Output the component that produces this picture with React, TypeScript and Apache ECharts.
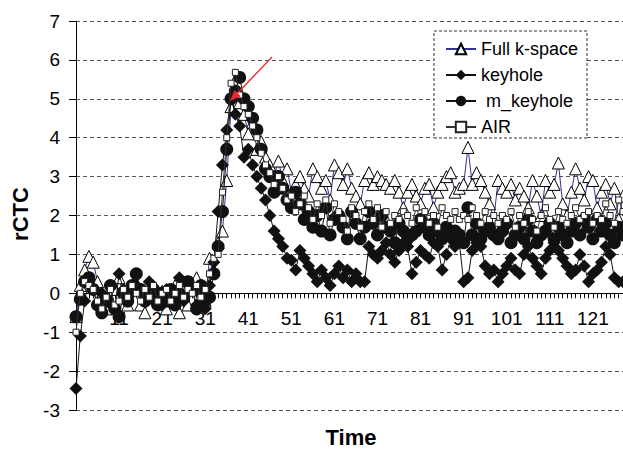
import React, { useEffect, useRef } from "react";
import * as echarts from "echarts";

const TIME: string[] = Array.from({ length: 128 }, (_, i) => String(i + 1));

const FULL_KSPACE: number[] = [
  -0.6, 0.2, 0.6, 0.95, 0.8, 0.3, -0.1, -0.4, -0.2, 0.1,
  0.4, -0.1, -0.3, 0.1, 0.2, -0.3, -0.5, 0.0, 0.1, -0.2,
  0.05, -0.4, -0.1, 0.2, -0.5, 0.1, -0.3, 0.2, 0.4, 0.1,
  -0.2, 0.9, 0.6, 1.3, 1.6, 2.9, 4.8, 5.2, 4.9, 4.6,
  4.1, 4.4, 3.7, 3.9, 3.5, 3.3, 3.0, 3.4, 2.9, 3.2,
  2.6, 2.8, 3.0, 2.7, 2.5, 3.2, 3.0, 2.7, 2.9, 2.4,
  3.3, 3.1, 2.8, 3.2, 2.7, 2.5, 2.3, 2.9, 3.1, 2.8,
  3.0, 2.9, 2.8, 2.7, 2.9, 2.6, 2.2, 2.6, 2.8, 2.5,
  2.3, 2.7, 2.8, 2.2, 2.6, 2.8, 3.0, 3.1, 2.6, 2.7,
  2.8, 3.75, 2.8, 3.1, 2.9, 2.6, 2.3, 1.9, 2.9, 2.7,
  2.6, 2.8, 2.4, 2.7, 2.5, 2.2, 2.9, 2.5, 2.0, 2.9,
  2.6, 2.8, 3.35, 2.3, 2.0, 2.6, 3.2, 2.7, 2.4, 3.0,
  2.9, 2.2, 2.6, 2.8, 2.3, 2.7, 1.9, 2.5,
];

const KEYHOLE: number[] = [
  -2.45, -1.1, -0.2, 0.3, 0.1, -0.3, 0.0, -0.1, 0.2, -0.4,
  0.5, 0.1, -0.2, 0.0, 0.2, 0.1, -0.1, 0.3, -0.2, 0.0,
  -0.3, 0.1, 0.0, -0.1, 0.4, -0.2, 0.2, 0.1, -0.3, 0.0,
  -0.4, 0.2, 0.8, 2.1, 3.3, 4.2, 5.0, 4.6, 4.3, 3.5,
  3.7, 3.3, 3.0, 2.7, 2.4, 2.0, 1.6, 1.4, 1.2, 0.9,
  0.85, 0.6, 1.1, 0.9, 0.7, 0.5, 0.3, 0.6, 0.4, 0.2,
  0.5, 0.7, 0.4, 0.6, 0.3, 0.5, 0.3, 0.3, 1.2, 1.0,
  0.9, 1.1, 1.3, 1.0, 0.8, 1.1, 1.3, 1.2, 0.5, 0.8,
  1.1, 1.0, 0.9, 1.3, 1.2, 0.6, 1.0, 1.4, 1.2, 1.3,
  0.3, 0.4, 1.1, 1.3, 1.2, 0.7, 0.5, 0.6, 0.3, 0.5,
  0.7, 0.9, 0.6, 0.5, 1.0, 1.2, 0.9, 0.7, 0.5, 0.9,
  1.1, 1.3, 1.1, 0.9, 0.7, 0.5, 0.6, 1.0, 0.7, 0.3,
  0.5, 0.6, 0.8, 1.2, 1.0, 0.4, 0.3, 0.3,
];

const M_KEYHOLE: number[] = [
  -0.6, -0.15, 0.3, 0.4, 0.1, -0.3, -0.5, -0.2, 0.2, -0.4,
  -0.6, 0.0, -0.2, 0.2, 0.5, 0.1, -0.2, 0.0, 0.1, -0.3,
  0.0, -0.2, 0.1, -0.3, 0.0, -0.1, 0.3, 0.1, -0.4, 0.2,
  -0.2, -0.1, 0.5, 1.2, 2.1, 3.7, 5.0, 5.2, 5.55, 5.0,
  4.8, 4.5, 4.2, 3.7, 3.2, 3.0, 2.6, 3.0, 2.7, 2.4,
  2.2, 2.6, 2.3, 1.9, 2.1, 1.7, 2.0, 1.6, 2.2, 1.5,
  1.9, 2.0, 1.7, 1.4, 2.1, 1.8, 1.4, 1.7, 2.1, 1.8,
  1.5, 2.0, 1.7, 1.6, 1.3, 1.8, 1.6, 1.4, 1.5, 1.6,
  1.9, 1.7, 1.5, 1.8, 1.6, 1.4, 1.7, 1.5, 1.6, 1.5,
  1.3, 2.2, 1.5, 1.8, 1.4, 1.6, 1.7, 1.5, 1.4, 1.6,
  1.8, 1.3, 1.5, 1.7, 1.4, 1.9, 1.6, 1.3, 1.5, 1.6,
  1.8, 1.4, 1.7, 1.5, 1.3, 1.6, 1.8, 1.5, 1.9, 1.7,
  1.4, 1.9, 1.6, 1.8, 1.5, 1.3, 1.7, 1.5,
];

const AIR: number[] = [
  -1.0, 0.0, 0.3, 0.2, 0.1, -0.2, -0.4, -0.1, 0.1, -0.3,
  -0.2, 0.1, -0.1, 0.2, 0.0, -0.2, 0.1, -0.1, 0.2, -0.2,
  0.0, 0.1, -0.2, 0.0, 0.2, -0.1, 0.1, 0.0, 0.2, -0.1,
  0.1, 0.5, 0.9, 1.0, 2.6, 4.0, 5.4, 5.68, 5.1, 4.8,
  4.6, 4.3, 4.0, 3.6, 3.3, 3.1, 2.8, 3.0, 2.7, 2.4,
  2.5, 2.1, 2.3, 2.5, 2.2, 1.9, 2.3, 2.0, 2.4, 1.8,
  2.3, 2.1, 1.9, 1.6, 2.2, 2.0, 1.7, 2.1, 2.3, 1.9,
  2.2, 1.7, 2.1, 1.8, 2.0, 1.9, 2.1, 2.0, 1.8, 2.2,
  1.9, 2.1, 1.8, 2.0, 1.7, 2.2, 2.0, 1.9, 2.1, 1.9,
  2.0, 1.9, 2.2, 2.0, 1.8, 2.1, 1.9, 2.0, 1.8, 2.0,
  1.9, 2.1, 1.7, 2.0, 1.8, 2.1, 1.9, 1.6, 2.0, 2.2,
  1.9, 1.7, 2.1, 1.9, 1.8, 2.0, 2.2, 1.9, 2.0, 2.1,
  1.8, 2.0, 1.9, 2.3, 2.0, 1.8, 2.4, 2.1,
];

const Y_MIN = -3;
const Y_MAX = 7;
const FONT = "'Liberation Sans', Arial, sans-serif";

const GRID_TOP = 21;
const GRID_BOTTOM = 41;
const CHART_H = 451;

export default function App() {
  const ref = useRef<HTMLDivElement>(null);

  useEffect(() => {
    if (!ref.current) return;
    const chart = echarts.init(ref.current, undefined, { renderer: "svg" });

    const plotH = CHART_H - GRID_TOP - GRID_BOTTOM;
    const zeroOffset = (plotH * (0 - Y_MIN)) / (Y_MAX - Y_MIN);

    const tip = [230, 101];
    const tail = [272, 57];
    const dx = tip[0] - tail[0];
    const dy = tip[1] - tail[1];
    const len = Math.sqrt(dx * dx + dy * dy);
    const ux = dx / len;
    const uy = dy / len;
    const headLen = 11;
    const headHalf = 4.5;
    const bx = tip[0] - ux * headLen;
    const by = tip[1] - uy * headLen;
    const px = -uy * headHalf;
    const py = ux * headHalf;

    chart.setOption({
      animation: false,
      backgroundColor: "#ffffff",
      grid: { left: 76, right: 0, top: GRID_TOP, bottom: GRID_BOTTOM, containLabel: false },
      xAxis: {
        type: "category",
        data: TIME,
        boundaryGap: false,
        offset: -zeroOffset,
        axisLine: { onZero: false, lineStyle: { color: "#000", width: 1 } },
        axisTick: { show: true, interval: 0, length: 5, lineStyle: { color: "#000" } },
        axisLabel: {
          interval: 9,
          margin: 16,
          color: "#000",
          fontSize: 19,
          fontFamily: FONT,
          formatter: (v: string) => (v === "1" ? "" : v),
        },
        splitLine: { show: false },
      },
      yAxis: {
        type: "value",
        min: Y_MIN,
        max: Y_MAX,
        interval: 1,
        axisLine: { show: true, lineStyle: { color: "#000", width: 1 } },
        axisTick: { show: true, length: 7, lineStyle: { color: "#000" } },
        axisLabel: { margin: 16, color: "#000", fontSize: 19, fontFamily: FONT },
        splitLine: { show: true, lineStyle: { color: "#555", type: [4, 3], width: 1 } },
      },
      legend: {
        orient: "vertical",
        left: 440,
        top: 35,
        itemWidth: 30,
        itemHeight: 13,
        itemGap: 8,
        textStyle: { color: "#000", fontSize: 18, fontFamily: FONT, lineHeight: 18 },
        formatter: (n: string) => (n === "m_keyhole" ? " m_keyhole" : n),
        data: ["Full k-space", "keyhole", "m_keyhole", "AIR"],
      },
      graphic: [
        {
          type: "rect",
          z: 3,
          shape: { x: 434, y: 31, width: 153, height: 107 },
          style: { fill: "#fff", stroke: "#333", lineWidth: 1, lineDash: [3, 2] },
        },
        {
          type: "line",
          z: 10,
          shape: { x1: tail[0], y1: tail[1], x2: bx, y2: by },
          style: { stroke: "#e8262a", lineWidth: 1.3 },
        },
        {
          type: "polygon",
          z: 10,
          shape: {
            points: [
              [tip[0], tip[1]],
              [bx + px, by + py],
              [bx - px, by - py],
            ],
          },
          style: { fill: "#e8262a" },
        },
        {
          type: "text",
          z: 5,
          rotation: Math.PI / 2,
          x: 20,
          y: 214,
          style: {
            text: "rCTC",
            font: `bold 22px ${FONT}`,
            fill: "#000",
            textAlign: "center",
            textVerticalAlign: "middle",
          },
        },
        {
          type: "text",
          z: 5,
          x: 351,
          y: 437,
          style: {
            text: "Time",
            font: `bold 22px ${FONT}`,
            fill: "#000",
            textAlign: "center",
            textVerticalAlign: "middle",
          },
        },
      ],
      series: [
        {
          name: "Full k-space",
          type: "line",
          data: FULL_KSPACE,
          symbol: "triangle",
          symbolSize: 12,
          showAllSymbol: true,
          lineStyle: { color: "#333399", width: 1 },
          itemStyle: { color: "#fff", borderColor: "#000", borderWidth: 1 },
          z: 2,
        },
        {
          name: "keyhole",
          type: "line",
          data: KEYHOLE,
          symbol: "diamond",
          symbolSize: 13,
          showAllSymbol: true,
          lineStyle: { color: "#111", width: 1 },
          itemStyle: { color: "#111", borderColor: "#111", borderWidth: 0 },
          z: 3,
        },
        {
          name: "m_keyhole",
          type: "line",
          data: M_KEYHOLE,
          symbol: "circle",
          symbolSize: 13,
          showAllSymbol: true,
          lineStyle: { color: "#111", width: 1 },
          itemStyle: { color: "#111", borderColor: "#111", borderWidth: 0 },
          z: 4,
        },
        {
          name: "AIR",
          type: "line",
          data: AIR,
          symbol: "rect",
          symbolSize: 6,
          showAllSymbol: true,
          lineStyle: { color: "#333", width: 1 },
          itemStyle: { color: "#fff", borderColor: "#222", borderWidth: 1 },
          z: 5,
        },
      ],
    });

    return () => chart.dispose();
  }, []);

  return (
    <div
      ref={ref}
      style={{ position: "absolute", left: 0, top: 0, width: 623, height: CHART_H }}
    />
  );
}
